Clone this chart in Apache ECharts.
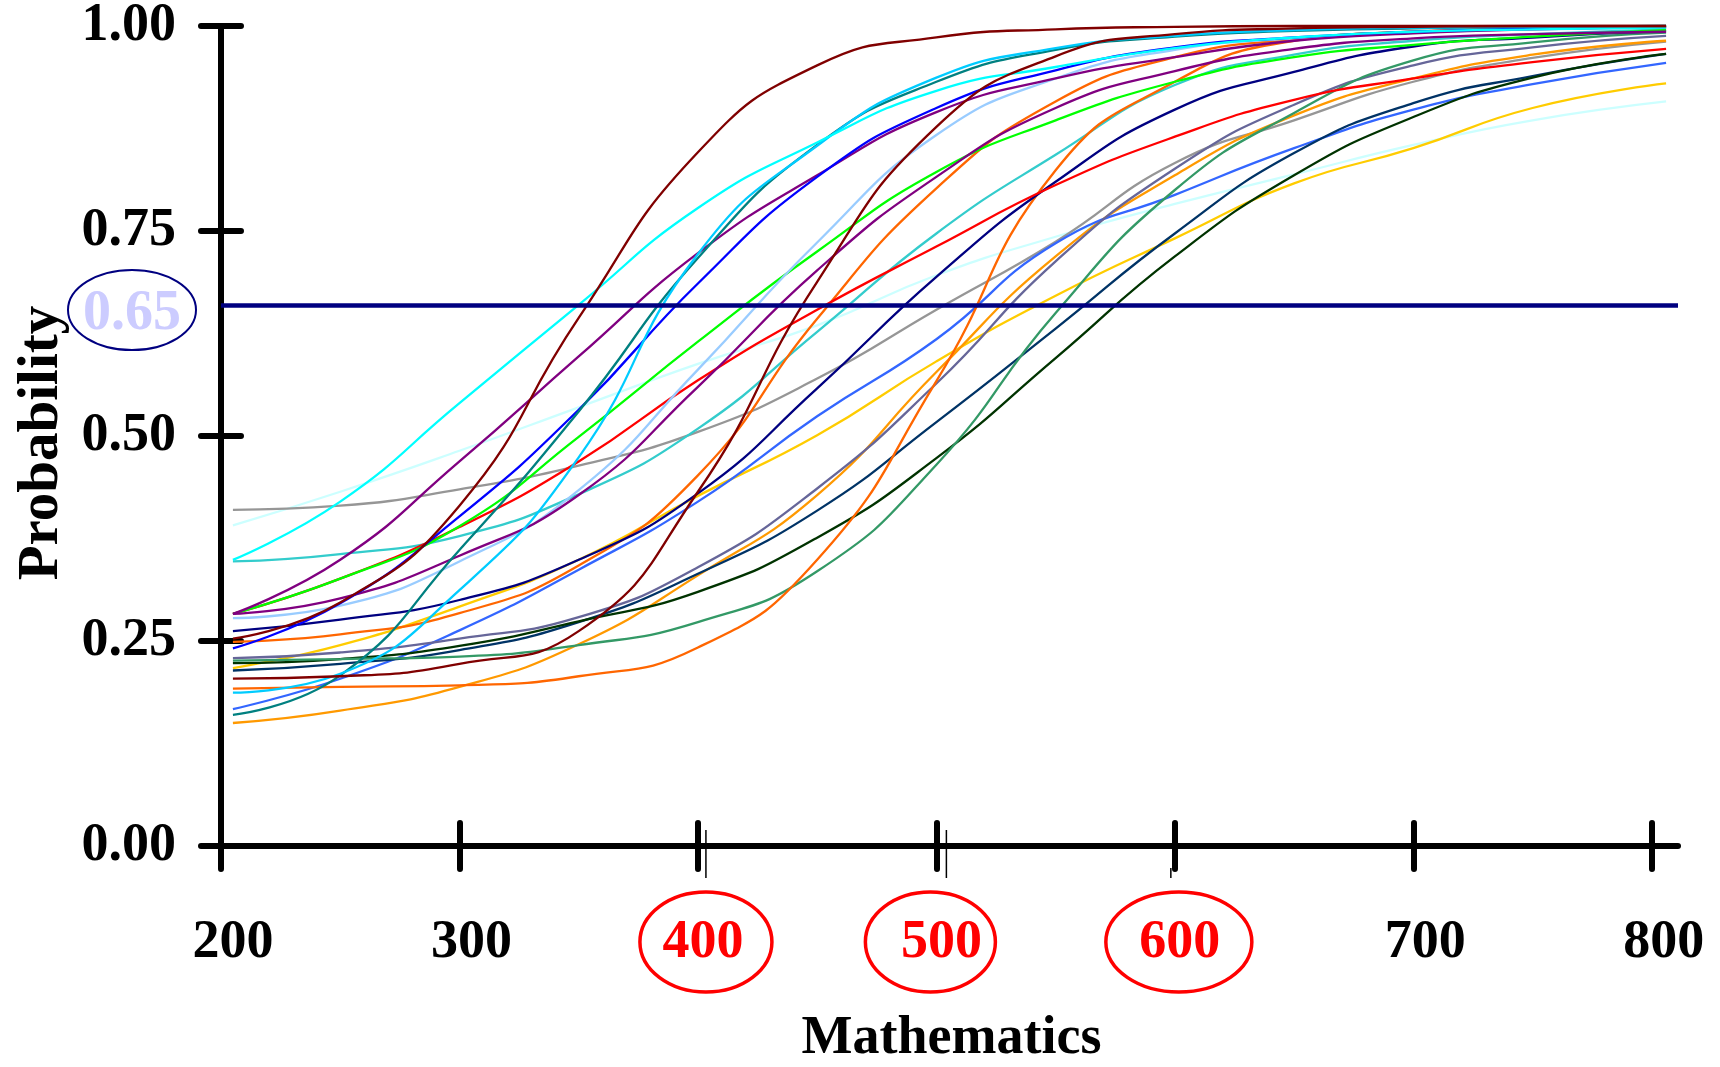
<!DOCTYPE html>
<html>
<head>
<meta charset="utf-8">
<script src="https://cdn.jsdelivr.net/npm/echarts@6/dist/echarts.min.js"></script>
<style>
html,body{margin:0;padding:0;background:#ffffff;}
#chart{width:1720px;height:1067px;}
</style>
</head>
<body>
<div id="chart"></div>
<script>
// ---------------- data ----------------
const scores = [205, 250, 300, 350, 400, 450, 500, 550, 600, 650, 700, 750, 806];
const xTickValues = [200, 300, 400, 500, 600, 700, 800];
const circledTicks = [400, 500, 600];
const yTickValues = [0, 0.25, 0.5, 0.75, 1];
const thresholdLabel = '0.65';
const thresholdLabelValue = 0.65;
const thresholdLineValue = 0.663;

const itemMaroonA   = [0.253,0.297,0.415,0.644,0.846,0.952,0.986,0.996,0.999,1.000,1.000,1.000,1.000];
const itemMaroonB   = [0.204,0.207,0.222,0.262,0.432,0.688,0.877,0.963,0.990,0.997,0.999,1.000,1.000];
const itemCyan      = [0.349,0.420,0.540,0.660,0.778,0.858,0.921,0.950,0.973,0.986,0.993,0.996,0.998];
const itemLightCyan = [0.391,0.432,0.482,0.535,0.588,0.635,0.696,0.743,0.783,0.819,0.855,0.885,0.908];
const itemGray      = [0.410,0.415,0.435,0.464,0.505,0.570,0.654,0.737,0.833,0.885,0.932,0.961,0.981];
const itemTurquoise = [0.347,0.356,0.378,0.429,0.509,0.627,0.747,0.843,0.928,0.965,0.982,0.990,0.996];
const itemPurpleA   = [0.283,0.349,0.469,0.597,0.723,0.818,0.895,0.936,0.962,0.982,0.991,0.996,0.998];
const itemPurpleB   = [0.283,0.302,0.354,0.428,0.560,0.702,0.816,0.900,0.945,0.972,0.985,0.990,0.993];
const itemRed       = [0.283,0.326,0.389,0.469,0.568,0.654,0.731,0.806,0.865,0.910,0.936,0.956,0.972];
const itemGreen     = [0.283,0.326,0.390,0.499,0.615,0.725,0.822,0.885,0.932,0.962,0.977,0.987,0.995];
const itemSkyBlue   = [0.278,0.293,0.347,0.434,0.581,0.736,0.867,0.936,0.971,0.985,0.992,0.996,0.998];
const itemNavy      = [0.262,0.276,0.300,0.349,0.430,0.558,0.694,0.810,0.898,0.944,0.975,0.986,0.994];
const itemBlue      = [0.241,0.296,0.402,0.532,0.686,0.816,0.900,0.946,0.974,0.986,0.993,0.997,0.999];
const itemTeal      = [0.160,0.208,0.361,0.530,0.717,0.855,0.932,0.971,0.987,0.994,0.997,0.999,1.000];
const itemDeepSky   = [0.187,0.210,0.312,0.474,0.722,0.854,0.937,0.973,0.988,0.995,0.998,0.999,1.000];
const itemOrangeA   = [0.249,0.258,0.284,0.342,0.452,0.643,0.802,0.908,0.962,0.984,0.993,0.997,0.999];
const itemOrangeB   = [0.192,0.194,0.196,0.207,0.242,0.349,0.567,0.824,0.932,0.982,0.993,0.997,0.999];
const itemGold      = [0.217,0.245,0.292,0.349,0.427,0.501,0.591,0.671,0.741,0.808,0.851,0.900,0.930];
const itemRoyalBlue = [0.167,0.204,0.263,0.337,0.420,0.524,0.618,0.735,0.794,0.851,0.898,0.929,0.955];
const itemSlateGray = [0.229,0.236,0.253,0.279,0.340,0.436,0.564,0.713,0.826,0.904,0.952,0.974,0.988];
const itemAmber     = [0.150,0.165,0.194,0.246,0.330,0.428,0.578,0.719,0.818,0.891,0.936,0.965,0.982];
const itemDarkSlate = [0.214,0.222,0.239,0.273,0.332,0.409,0.517,0.631,0.747,0.845,0.906,0.939,0.966];
const itemDarkGreen = [0.223,0.228,0.244,0.274,0.310,0.376,0.473,0.595,0.719,0.818,0.889,0.937,0.966];
const itemSeaGreen  = [0.226,0.228,0.231,0.245,0.273,0.335,0.465,0.650,0.800,0.894,0.958,0.980,0.992];

// ---------------- styling ----------------
const FONT = '"Liberation Serif", "Times New Roman", serif';
const curves = [
  ['Item 1',  itemLightCyan, '#ccffff'],
  ['Item 2',  itemGray,      '#969696'],
  ['Item 3',  itemTurquoise, '#33cccc'],
  ['Item 4',  itemGold,      '#ffcc00'],
  ['Item 5',  itemAmber,     '#ff9900'],
  ['Item 6',  itemRoyalBlue, '#3366ff'],
  ['Item 7',  itemSlateGray, '#666699'],
  ['Item 8',  itemDarkSlate, '#003366'],
  ['Item 9',  itemDarkGreen, '#003300'],
  ['Item 10', itemSeaGreen,  '#339966'],
  ['Item 11', itemOrangeB,   '#ff6600'],
  ['Item 12', itemOrangeA,   '#ff6600'],
  ['Item 13', itemNavy,      '#000080'],
  ['Item 14', itemRed,       '#ff0000'],
  ['Item 15', itemGreen,     '#00ff00'],
  ['Item 16', itemSkyBlue,   '#99ccff'],
  ['Item 17', itemPurpleB,   '#800080'],
  ['Item 18', itemPurpleA,   '#800080'],
  ['Item 19', itemBlue,      '#0000ff'],
  ['Item 20', itemTeal,      '#008080'],
  ['Item 21', itemDeepSky,   '#00ccff'],
  ['Item 22', itemCyan,      '#00ffff'],
  ['Item 23', itemMaroonB,   '#800000'],
  ['Item 24', itemMaroonA,   '#800000']
];

const series = curves.map(([name, vals, color]) => ({
  name: name,
  type: 'line',
  xAxisIndex: 0,
  yAxisIndex: 0,
  data: scores.map((s, i) => [s, vals[i]]),
  smooth: 0.5,
  showSymbol: false,
  symbol: 'none',
  clip: false,
  lineStyle: { color: color, width: 2.3 },
  emphasis: { disabled: true },
  z: 2
}));

series.push({
  name: 'threshold',
  type: 'line',
  xAxisIndex: 0,
  yAxisIndex: 0,
  data: [],
  z: 5,
  markLine: {
    silent: true,
    symbol: 'none',
    label: { show: false },
    lineStyle: { color: '#000080', width: 4.5, type: 'solid' },
    data: [{ yAxis: thresholdLineValue }]
  }
});

const tickLine = { color: '#000000', width: 6, cap: 'round' };
const labelBase = { fontFamily: FONT, fontWeight: 'bold', fontSize: 54 };

const chart = echarts.init(document.getElementById('chart'), null, { renderer: 'canvas' });

chart.setOption({
  animation: false,
  backgroundColor: '#ffffff',
  grid: { left: 221, right: 42, top: 26, bottom: 221, containLabel: false, outerBoundsMode: 'none' },
  xAxis: [
    {
      type: 'value', min: 200, max: 811, position: 'bottom',
      axisLine: { show: true, onZero: false, lineStyle: { color: '#000000', width: 6 } },
      axisTick: { show: true, inside: false, length: 23, customValues: xTickValues, lineStyle: tickLine },
      axisLabel: {
        show: true, customValues: xTickValues, margin: 70,
        formatter: v => circledTicks.indexOf(v) >= 0 ? '{r|' + v + '}' : '{b|' + v + '}',
        rich: {
          b: Object.assign({ color: '#000000', padding: [0, 0, 0, 24] }, labelBase),
          r: Object.assign({ color: '#ff0000', padding: [0, 0, 0, 10] }, labelBase)
        }
      },
      splitLine: { show: false },
      name: 'Mathematics', nameLocation: 'middle', nameGap: 166,
      nameTextStyle: { fontFamily: FONT, fontWeight: 'bold', fontSize: 54, color: '#000000', padding: [0, 0, 0, 4] }
    },
    {
      type: 'value', min: 200, max: 811, position: 'bottom',
      axisLine: { show: false, onZero: false },
      axisTick: { show: true, inside: true, length: 23, customValues: xTickValues, lineStyle: tickLine },
      axisLabel: { show: false },
      splitLine: { show: false }
    }
  ],
  yAxis: [
    {
      type: 'value', min: 0, max: 1, interval: 0.25, position: 'left',
      axisLine: { show: true, onZero: false, lineStyle: { color: '#000000', width: 6 } },
      axisTick: { show: true, inside: false, length: 20, customValues: yTickValues, lineStyle: tickLine },
      axisLabel: {
        show: true, customValues: yTickValues, margin: 45, color: '#000000',
        fontFamily: FONT, fontWeight: 'bold', fontSize: 54, padding: [12, 0, 0, 0],
        formatter: v => v.toFixed(2)
      },
      splitLine: { show: false },
      name: 'Probability', nameLocation: 'middle', nameGap: 150,
      nameTextStyle: { fontFamily: FONT, fontWeight: 'bold', fontSize: 57, color: '#000000', padding: [0, 14, 0, 0] }
    },
    {
      type: 'value', min: 0, max: 1, interval: 0.25, position: 'left',
      axisLine: { show: false, onZero: false },
      axisTick: { show: true, inside: true, length: 20, customValues: yTickValues, lineStyle: tickLine },
      axisLabel: { show: false },
      splitLine: { show: false }
    }
  ],
  series: series
});

// ---------------- annotations ----------------
const px = v => chart.convertToPixel({ xAxisIndex: 0 }, v);
const py = v => chart.convertToPixel({ yAxisIndex: 0 }, v);
const axisY = py(0);
const ringOffsets = [8, -6, 4];
const ringRx = [66, 65, 73];
const graphics = [];

circledTicks.forEach((v, i) => {
  graphics.push({
    type: 'ellipse', silent: true, z: 20,
    shape: { cx: px(v) + ringOffsets[i], cy: axisY + 96, rx: ringRx[i], ry: 50 },
    style: { fill: 'none', stroke: '#ff0000', lineWidth: 3.5 }
  });
});

// thin marks beside ticks
[[400, 8, 830, 878], [500, 10, 830, 878], [600, -4, 868, 878]].forEach(([v, dx, y1, y2]) => {
  graphics.push({
    type: 'line', silent: true, z: 20,
    shape: { x1: px(v) + dx, y1: y1, x2: px(v) + dx, y2: y2 },
    style: { stroke: '#000000', lineWidth: 1.5 }
  });
});

const labY = py(thresholdLabelValue);
graphics.push({
  type: 'ellipse', silent: true, z: 20,
  shape: { cx: 132, cy: labY - 3, rx: 64, ry: 40 },
  style: { fill: 'none', stroke: '#000080', lineWidth: 2 }
});
graphics.push({
  type: 'text', silent: true, z: 21,
  x: 132, y: labY + 2,
  style: {
    text: thresholdLabel, fill: '#ccccff',
    font: 'bold 56px "Liberation Serif", "Times New Roman", serif',
    align: 'center', verticalAlign: 'middle'
  }
});

chart.setOption({ graphic: graphics });
</script>
</body>
</html>
